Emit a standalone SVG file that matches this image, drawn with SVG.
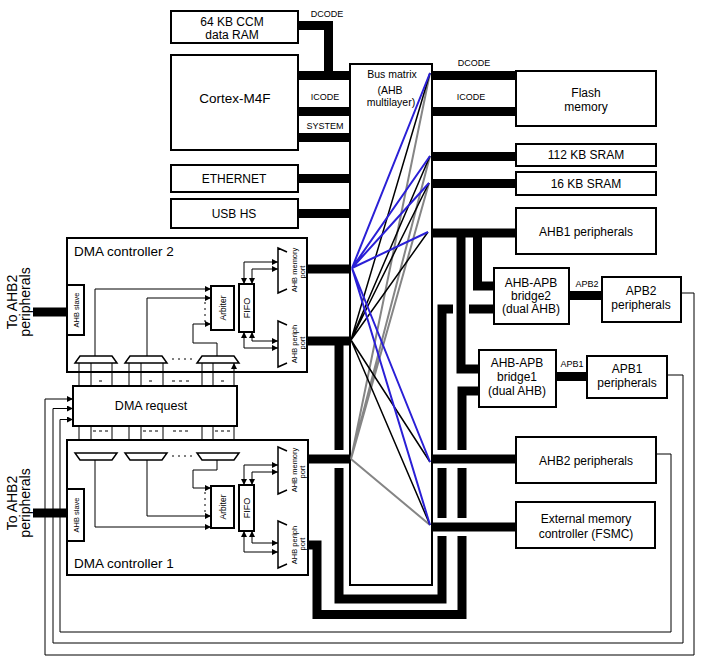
<svg xmlns="http://www.w3.org/2000/svg" width="702" height="663" viewBox="0 0 702 663">
<defs>
<style>
text{font-family:"Liberation Sans",Arial,sans-serif;fill:#000}
.t12{font-size:12px;text-anchor:middle}
.t13{font-size:13.5px}
.lbl{font-size:9px;text-anchor:middle}
.bm{font-size:10.5px;text-anchor:middle}
.small{font-size:7.5px;text-anchor:middle}
.box{fill:#fff;stroke:#000;stroke-width:2}
.bar{fill:none;stroke:#000;stroke-width:9;stroke-linejoin:miter}
.thin{fill:none;stroke:#000;stroke-width:1}
.ar{marker-end:url(#ah)}
.ar2{marker-start:url(#ah);marker-end:url(#ah)}
.mux{fill:#fff;stroke:#000;stroke-width:1.5}
.port{fill:none;stroke:#000;stroke-width:1.5}
.blue{stroke:#2a1fd6;stroke-width:2;fill:none}
.blk{stroke:#000;stroke-width:1.5;fill:none}
.gry{stroke:#858585;stroke-width:2;fill:none}
.gap{fill:#fff}
.dots{stroke:#000;stroke-width:1;stroke-dasharray:2 4;fill:none}
</style>
<marker id="ah" viewBox="0 0 6 6" refX="6" refY="3" markerWidth="6" markerHeight="6" orient="auto-start-reverse" markerUnits="userSpaceOnUse"><path d="M0,0L6,3L0,6z"/></marker>
</defs>
<rect width="702" height="663" fill="#fff"/>

<g id="connectors">
<path class="thin ar" d="M681 293H694V655H45V399H73"/>
<path class="thin ar" d="M667 375H683V643H53V408.5H73"/>
<path class="thin ar" d="M656 454H671V632H60V419.5H73"/>

<rect id="busmatrix-box" class="box" x="350" y="64" width="82" height="521"/>

<path class="gry" d="M351 459L430 73M351 459L430 156M351 459L429 183M351 459L430 525"/>
<path class="blk" d="M351 340L430 73M351 340L430 156M351 340L429 183M351 340L428 232M351 340L430 462M351 340L430 525"/>
<path class="blue" d="M352 268L430 73M352 268L430 156M352 268L429 183M352 268L428 232M352 268L430 462M352 268L430 525"/>

<path class="bar" d="M298 25.5H328.5V75"/>
<path class="bar" d="M298 75.5H350M298 111.5H350M298 137.5H350M298 178.5H350M298 213.5H350"/>
<path class="bar" d="M432 75.5H516M432 111.5H516M432 156.5H516M432 183.5H516M432 233H516"/>
<path class="bar" d="M307 269H350M307 341H350"/>
<path class="bar" d="M339 341V599H442V309H494"/>
<path class="bar" d="M308 545H317V614.5H462V391H479"/>
<rect class="gap" x="453" y="303" width="16" height="12"/>
<path class="bar" d="M477.5 233V286H494M461 233V369H479"/>
<rect class="gap" x="331" y="450" width="16" height="18"/>
<rect class="gap" x="434" y="450" width="36" height="18"/>
<rect class="gap" x="434" y="518" width="36" height="18"/>
<path class="bar" d="M308 459H350M432 459H516M432 527H516"/>
<path class="bar" d="M569 295.5H602M556 376.5H587"/>
<path class="bar" d="M33 312H67M33 513H67"/>
</g>

<g id="labels">
<text class="lbl" x="327" y="17">DCODE</text>
<text class="lbl" x="325" y="100">ICODE</text>
<text class="lbl" x="325" y="129">SYSTEM</text>
<text class="lbl" x="474" y="66">DCODE</text>
<text class="lbl" x="471" y="100">ICODE</text>
<text class="lbl" x="587" y="287">APB2</text>
<text class="lbl" x="572" y="367">APB1</text>
<text font-size="14" text-anchor="middle" transform="translate(17,302) rotate(-90)">To AHB2</text>
<text font-size="14" text-anchor="middle" transform="translate(30,302) rotate(-90)">peripherals</text>
<text font-size="14" text-anchor="middle" transform="translate(17,503) rotate(-90)">To AHB2</text>
<text font-size="14" text-anchor="middle" transform="translate(30,503) rotate(-90)">peripherals</text>
</g>

<g id="busmatrix">
<text class="bm" x="392" y="78">Bus matrix</text>
<text class="bm" x="390" y="94">(AHB</text>
<text class="bm" x="391" y="106">multilayer)</text>
</g>

<g id="ccm"><rect class="box" x="171" y="11" width="127" height="32"/>
<text class="t12" x="232" y="26">64 KB CCM</text><text class="t12" x="232" y="39">data RAM</text></g>
<g id="cortex"><rect class="box" x="171" y="55" width="127" height="95"/>
<text class="t13" text-anchor="middle" x="235" y="103">Cortex-M4F</text></g>
<g id="ethernet"><rect class="box" x="171" y="165" width="127" height="27"/>
<text class="t12" x="234" y="183">ETHERNET</text></g>
<g id="usbhs"><rect class="box" x="171" y="199" width="127" height="29"/>
<text class="t12" x="234" y="218">USB HS</text></g>

<g id="flash"><rect class="box" x="516" y="71" width="140" height="55"/>
<text class="t12" x="586" y="97">Flash</text><text class="t12" x="586" y="111">memory</text></g>
<g id="sram112"><rect class="box" x="516" y="144" width="140" height="22"/>
<text class="t12" x="586" y="159">112 KB SRAM</text></g>
<g id="sram16"><rect class="box" x="516" y="172" width="140" height="23"/>
<text class="t12" x="586" y="188">16 KB SRAM</text></g>
<g id="ahb1"><rect class="box" x="516" y="208" width="140" height="46"/>
<text class="t12" x="586" y="236">AHB1 peripherals</text></g>
<g id="bridge2"><rect class="box" x="494" y="268" width="75" height="56"/>
<text class="t12" x="531" y="287">AHB-APB</text><text class="t12" x="531" y="300">bridge2</text><text class="t12" x="531" y="313">(dual AHB)</text></g>
<g id="apb2"><rect class="box" x="602" y="277" width="79" height="45"/>
<text class="t12" x="641" y="295">APB2</text><text class="t12" x="641" y="309">peripherals</text></g>
<g id="bridge1"><rect class="box" x="479" y="350" width="77" height="57"/>
<text class="t12" x="517" y="367">AHB-APB</text><text class="t12" x="517" y="381">bridge1</text><text class="t12" x="517" y="395">(dual AHB)</text></g>
<g id="apb1"><rect class="box" x="587" y="356" width="80" height="42"/>
<text class="t12" x="627" y="373">APB1</text><text class="t12" x="627" y="387">peripherals</text></g>
<g id="ahb2"><rect class="box" x="516" y="437" width="140" height="46"/>
<text class="t12" x="586" y="465">AHB2 peripherals</text></g>
<g id="fsmc"><rect class="box" x="516" y="502" width="139" height="46"/>
<text class="t12" x="586" y="523">External memory</text><text class="t12" x="586" y="538">controller (FSMC)</text></g>

<g id="dma2">
<rect class="box" x="67" y="238" width="240" height="134"/>
<text class="t13" x="74" y="256">DMA controller 2</text>
<rect class="box" x="67" y="285" width="17" height="50"/>
<text class="small" transform="translate(79,310) rotate(-90)">AHB slave</text>
<rect class="box" x="211" y="286" width="23" height="44"/>
<text font-size="8.5" text-anchor="middle" transform="translate(226,308) rotate(-90)">Arbiter</text>
<rect class="box" x="239" y="284" width="15" height="48"/>
<text font-size="9" text-anchor="middle" transform="translate(250,308) rotate(-90)">FIFO</text>
<path class="port" d="M287 252L278 248V293L287 289M287 325L278 321V367L287 363"/>
<text class="small" transform="translate(297,270) rotate(-90)">AHB memory</text>
<text class="small" transform="translate(305,272) rotate(-90)">port</text>
<text class="small" transform="translate(297,344) rotate(-90)">AHB periph</text>
<text class="small" transform="translate(305,343) rotate(-90)">port</text>
<path class="thin ar2" d="M244 284V262H278"/>
<path class="thin ar2" d="M252 284V269H278"/>
<path class="thin ar2" d="M252 332V341H278"/>
<path class="thin ar2" d="M244 332V348H278"/>
<polygon class="mux" points="75,363 117,363 112,356 80,356"/>
<polygon class="mux" points="125,363 167,363 162,356 130,356"/>
<polygon class="mux" points="197,363 239,363 234,356 202,356"/>
<path class="thin ar" d="M95 356V289H211"/>
<path class="thin ar" d="M147 356V298H211"/>
<path class="thin ar" d="M217 356V343H193V324H211"/>
<path class="dots" d="M205 302V322"/>
<path class="dots" d="M172 359H192"/>
</g>

<g id="dmareq">
<rect class="box" x="73" y="386" width="164" height="40"/>
<text font-size="12.5" text-anchor="middle" x="151" y="410">DMA request</text>
<path class="thin ar" d="M79 386V363M91 386V363M112 386V363M129 386V363M141 386V363M163 386V363M202 386V363M213 386V363M234 386V363"/>
<path class="thin ar" d="M79 426V453M91 426V453M112 426V453M129 426V453M141 426V453M163 426V453M202 426V453M213 426V453M234 426V453"/>
<path class="thin" d="M99 381h3M149 381h3M172 381h3M179 381h3M186 381h3M221 381h3"/>
<path class="thin" d="M93 431h3M99 431h3M105 431h3M143 431h3M149 431h3M155 431h3M173 431h3M179 431h3M185 431h3M215 431h3M221 431h3M227 431h3"/>
</g>

<g id="dma1">
<rect class="box" x="67" y="440" width="241" height="135"/>
<text class="t13" x="74" y="568">DMA controller 1</text>
<rect class="box" x="67" y="489" width="17" height="52"/>
<text class="small" transform="translate(79,515) rotate(-90)">AHB slave</text>
<rect class="box" x="211" y="486" width="23" height="42"/>
<text font-size="8.5" text-anchor="middle" transform="translate(226,507) rotate(-90)">Arbiter</text>
<rect class="box" x="239" y="485" width="15" height="46"/>
<text font-size="9" text-anchor="middle" transform="translate(250,508) rotate(-90)">FIFO</text>
<path class="port" d="M287 451L278 447V494L287 490M287 525L278 521V568L287 564"/>
<text class="small" transform="translate(297,470) rotate(-90)">AHB memory</text>
<text class="small" transform="translate(305,472) rotate(-90)">port</text>
<text class="small" transform="translate(297,545) rotate(-90)">AHB periph</text>
<text class="small" transform="translate(305,544) rotate(-90)">port</text>
<path class="thin ar2" d="M244 485V465H278"/>
<path class="thin ar2" d="M252 485V472H278"/>
<path class="thin ar2" d="M252 531V543H278"/>
<path class="thin ar2" d="M244 531V552H278"/>
<polygon class="mux" points="75,453 117,453 112,460 80,460"/>
<polygon class="mux" points="125,453 167,453 162,460 130,460"/>
<polygon class="mux" points="197,453 239,453 234,460 202,460"/>
<path class="thin ar" d="M95 460V527H211"/>
<path class="thin ar" d="M147 460V516H211"/>
<path class="thin ar" d="M217 460V470H193V488H211"/>
<path class="dots" d="M205 492V514"/>
<path class="dots" d="M172 456H192"/>
</g>
</svg>
